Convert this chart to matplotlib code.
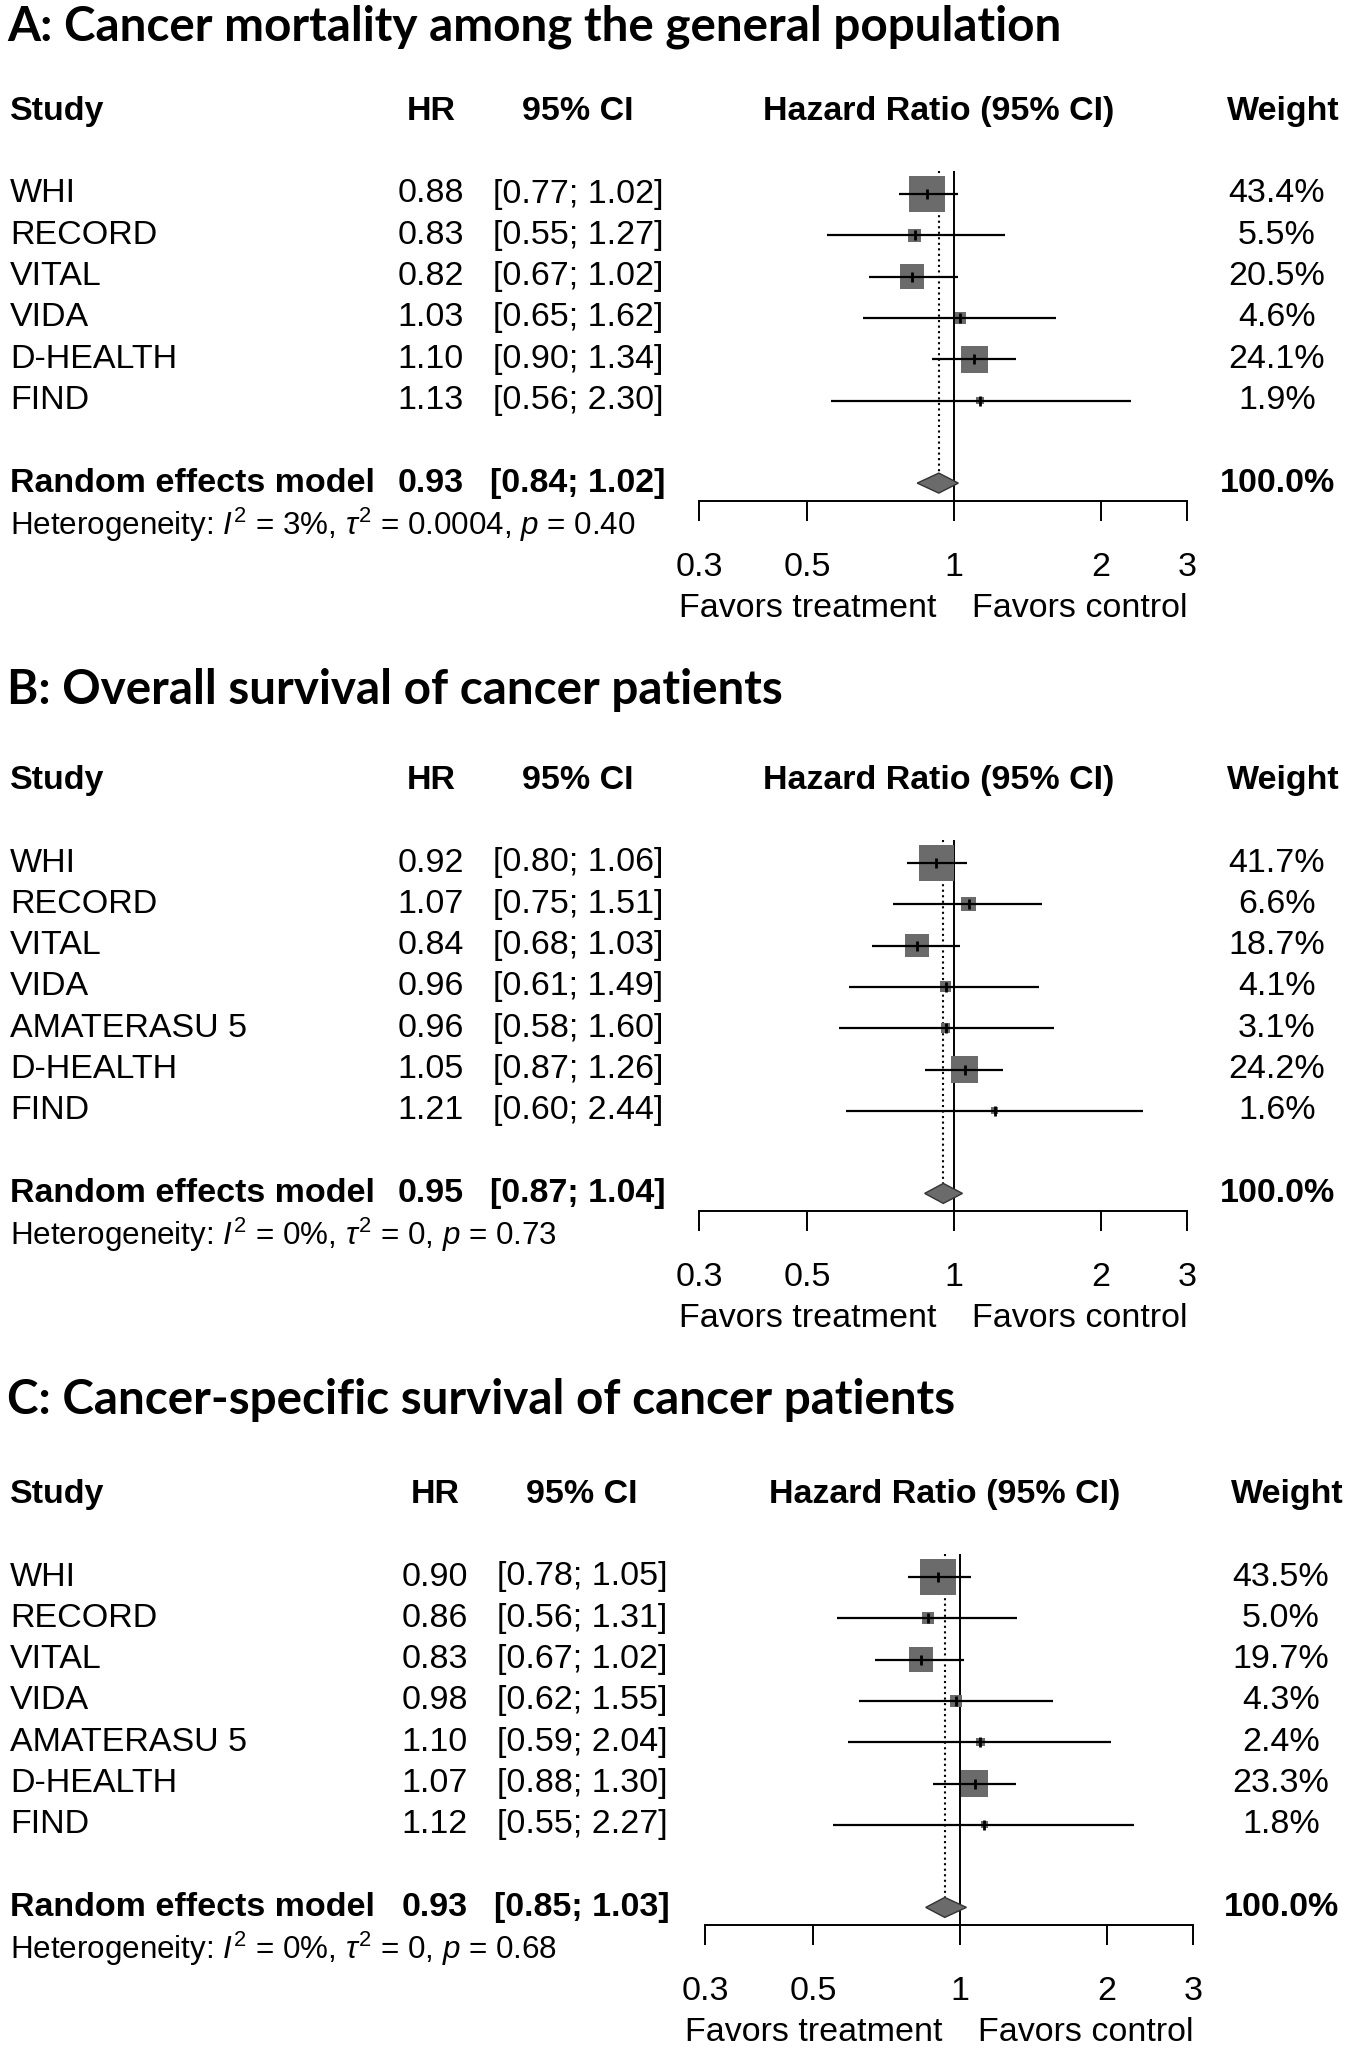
import numpy as np
import matplotlib
matplotlib.use("Agg")
import matplotlib.pyplot as plt
from matplotlib.patches import Polygon
from matplotlib.ticker import NullLocator
from matplotlib.transforms import blended_transform_factory

plt.rcParams['font.family'] = ['Liberation Sans', 'DejaVu Sans']
plt.rcParams['mathtext.fontset'] = 'custom'
plt.rcParams['mathtext.rm'] = 'Liberation Sans'
plt.rcParams['mathtext.it'] = 'Liberation Sans:italic'
plt.rcParams['mathtext.bf'] = 'Liberation Sans:bold'

# Panel A
a_title = "A: Cancer mortality among the general population"
a_study = ["WHI", "RECORD", "VITAL", "VIDA", "D-HEALTH", "FIND"]
a_hr = [0.88, 0.83, 0.82, 1.03, 1.10, 1.13]
a_lower = [0.77, 0.55, 0.67, 0.65, 0.90, 0.56]
a_upper = [1.02, 1.27, 1.02, 1.62, 1.34, 2.30]
a_weight = [43.4, 5.5, 20.5, 4.6, 24.1, 1.9]
a_pooled = [0.93, 0.84, 1.02]
a_het = ["3%", "0.0004", "0.40"]

# Panel B
b_title = "B: Overall survival of cancer patients"
b_study = ["WHI", "RECORD", "VITAL", "VIDA", "AMATERASU 5", "D-HEALTH", "FIND"]
b_hr = [0.92, 1.07, 0.84, 0.96, 0.96, 1.05, 1.21]
b_lower = [0.80, 0.75, 0.68, 0.61, 0.58, 0.87, 0.60]
b_upper = [1.06, 1.51, 1.03, 1.49, 1.60, 1.26, 2.44]
b_weight = [41.7, 6.6, 18.7, 4.1, 3.1, 24.2, 1.6]
b_pooled = [0.95, 0.87, 1.04]
b_het = ["0%", "0", "0.73"]

# Panel C
c_title = "C: Cancer-specific survival of cancer patients"
c_study = ["WHI", "RECORD", "VITAL", "VIDA", "AMATERASU 5", "D-HEALTH", "FIND"]
c_hr = [0.90, 0.86, 0.83, 0.98, 1.10, 1.07, 1.12]
c_lower = [0.78, 0.56, 0.67, 0.62, 0.59, 0.88, 0.55]
c_upper = [1.05, 1.31, 1.02, 1.55, 2.04, 1.30, 2.27]
c_weight = [43.5, 5.0, 19.7, 4.3, 2.4, 23.3, 1.8]
c_pooled = [0.93, 0.85, 1.03]
c_het = ["0%", "0", "0.68"]

x_ticks = [0.3, 0.5, 1, 2, 3]
x_ticklabels = ["0.3", "0.5", "1", "2", "3"]

W, H = 1350, 2048
STEP = 41.3          # row height in pixels
FS = 24.5            # table font size
GREY = '#6b6b6b'

fig = plt.figure(figsize=(W / 100, H / 100), dpi=100)


def draw_panel(title, study, hr, lower, upper, weight, pooled, het,
               y0, x0, x1, shift, title_row):
    n = len(study)
    y_top = y0 - 2.6 * STEP
    y_bot = y0 + (n + 1) * STEP + 18
    ax = fig.add_axes([x0 / W, 1 - y_bot / H, (x1 - x0) / W, (y_bot - y_top) / H])
    ax.set_xscale('log')
    ax.set_xlim(0.3, 3)
    ax.set_ylim((y_bot - y0) / STEP, -2.6)
    ax.patch.set_visible(False)
    for s in ['top', 'left', 'right']:
        ax.spines[s].set_visible(False)
    ax.spines['bottom'].set_linewidth(1.4)
    ax.set_yticks([])
    ax.set_xticks(x_ticks)
    ax.set_xticklabels(x_ticklabels)
    ax.xaxis.set_minor_locator(NullLocator())
    ax.tick_params(axis='x', direction='out', length=14.4, width=1.4,
                   pad=22, labelsize=FS)

    rows = np.arange(n)
    re_row = n + 1
    h = 10 / STEP

    # reference line and pooled estimate
    ax.vlines(1, -0.56, (y_bot - y0) / STEP, color='black', lw=1.4, zorder=2)
    ax.vlines(pooled[0], -0.56, re_row - h, color='black', lw=1.5,
              linestyles=':', zorder=1)

    # study squares, CIs and estimate ticks
    ax.scatter(hr, rows, s=15.5 * np.array(weight), marker='s', color=GREY,
               linewidths=0, zorder=3)
    ax.hlines(rows, lower, upper, color='black', lw=1.6, zorder=4)
    ax.scatter(hr, rows, s=52, marker='|', color='black', linewidths=2, zorder=5)

    diamond = Polygon([(pooled[1], re_row), (pooled[0], re_row - h),
                       (pooled[2], re_row), (pooled[0], re_row + h)],
                      closed=True, fc=GREY, ec='#333333', lw=1, zorder=5)
    ax.add_patch(diamond)

    ax.annotate("Favors treatment", xy=(1, 0), xycoords=('data', 'axes fraction'),
                xytext=(-13, -77), textcoords='offset points',
                ha='right', va='center', fontsize=FS)
    ax.annotate("Favors control", xy=(1, 0), xycoords=('data', 'axes fraction'),
                xytext=(13, -77), textcoords='offset points',
                ha='left', va='center', fontsize=FS)

    # table columns
    tr = blended_transform_factory(fig.transFigure, ax.transData)
    x_study = 10 / W
    x_hr = (431 + shift) / W
    x_ci = (578 + shift) / W
    x_w = (1277 + shift) / W
    kw = dict(transform=tr, va='center', fontsize=FS, clip_on=False)

    ax.text(x_study, -2, "Study", ha='left', fontweight='bold', **kw)
    ax.text(x_hr, -2, "HR", ha='center', fontweight='bold', **kw)
    ax.text(x_ci, -2, "95% CI", ha='center', fontweight='bold', **kw)
    ax.text((x0 + x1) / 2 / W - 4 / W, -2, "Hazard Ratio (95% CI)", ha='center',
            fontweight='bold', **kw)
    ax.text(x_w + 6 / W, -2, "Weight", ha='center', fontweight='bold', **kw)

    for i in range(n):
        ax.text(x_study, i, study[i], ha='left', **kw)
        ax.text(x_hr, i, f"{hr[i]:.2f}", ha='center', **kw)
        ax.text(x_ci, i, f"[{lower[i]:.2f}; {upper[i]:.2f}]", ha='center', **kw)
        ax.text(x_w, i, f"{weight[i]:.1f}%", ha='center', **kw)

    ax.text(x_study, re_row, "Random effects model", ha='left', fontweight='bold', **kw)
    ax.text(x_hr, re_row, f"{pooled[0]:.2f}", ha='center', fontweight='bold', **kw)
    ax.text(x_ci, re_row, f"[{pooled[1]:.2f}; {pooled[2]:.2f}]", ha='center',
            fontweight='bold', **kw)
    ax.text(x_w, re_row, "100.0%", ha='center', fontweight='bold', **kw)

    het_txt = (r"Heterogeneity: $I^2$ = " + het[0] + r", $\tau^2$ = " + het[1]
               + r", $p$ = " + het[2])
    ax.text(x_study, re_row + 1, het_txt, transform=tr, ha='left', va='center',
            fontsize=22.6, clip_on=False)

    t = ax.text(7 / W, title_row, title, transform=tr, ha='left', va='center',
                fontsize=36, fontweight='bold', family=['Lato', 'DejaVu Sans'],
                clip_on=False)
    return t


titles = []
titles.append(draw_panel(a_title, a_study, a_hr, a_lower, a_upper, a_weight,
                         a_pooled, a_het, 194, 699, 1187, 0, -4.05))
titles.append(draw_panel(b_title, b_study, b_hr, b_lower, b_upper, b_weight,
                         b_pooled, b_het, 863, 699, 1187, 0, -4.2))
titles.append(draw_panel(c_title, c_study, c_hr, c_lower, c_upper, c_weight,
                         c_pooled, c_het, 1577, 705, 1193, 4, -4.28))

# scale the titles so panel A's title spans the same width as in the original
renderer = fig.canvas.get_renderer()
w_a = titles[0].get_window_extent(renderer).width
size = 36 * 1055 / w_a
for t in titles:
    t.set_fontsize(size)

fig.savefig("out.png", dpi=100)
